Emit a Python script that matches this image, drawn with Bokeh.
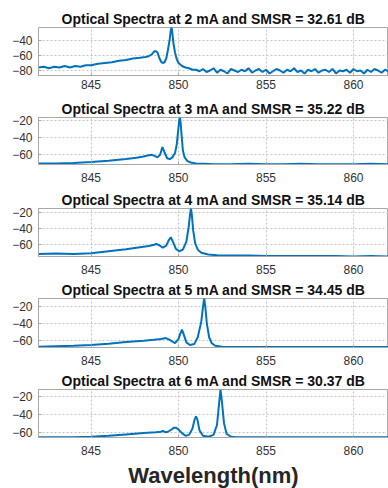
from bokeh.plotting import figure
from bokeh.layouts import column
from bokeh.models import FixedTicker, Range1d
from bokeh.embed import file_html
from bokeh.resources import INLINE

# ---- data ----
currents_mA = [2, 3, 4, 5, 6]
smsr_dB = [32.61, 35.22, 35.14, 34.45, 30.37]
x_ticks = [845, 850, 855, 860]

wl_2mA = [842.0, 842.3, 842.6, 842.9, 843.2, 843.5, 843.8, 844.1, 844.4, 844.7, 845.0, 845.4, 845.8,
          846.2, 846.6, 847.0, 847.4, 847.8, 848.1, 848.3, 848.5, 848.6, 848.7, 848.8, 848.9, 849.0,
          849.1, 849.2, 849.3, 849.4, 849.5, 849.55, 849.6, 849.65, 849.7, 849.8, 849.9, 850.0,
          850.2, 850.4, 850.6, 850.8,
          851.0, 851.2, 851.4, 851.6, 851.8, 852.0, 852.2, 852.4, 852.6, 852.8, 853.0, 853.2,
          853.4, 853.6, 853.8, 854.0, 854.2, 854.4, 854.6, 854.8, 855.0, 855.2, 855.4, 855.6,
          855.8, 856.0, 856.2, 856.4, 856.6, 856.8, 857.0, 857.2, 857.4, 857.6, 857.8, 858.0,
          858.2, 858.4, 858.6, 858.8, 859.0, 859.2, 859.4, 859.6, 859.8, 860.0, 860.2, 860.4,
          860.6, 860.8, 861.0, 861.2, 861.4, 861.6, 861.8, 862.0]
pw_2mA = [-76, -75, -77, -75, -76, -74, -76, -74, -75, -73, -73, -71, -70,
          -69, -67, -66, -64, -63, -62, -61, -58, -55, -54, -56, -63, -68,
          -70, -69, -64, -52, -38, -28, -22, -30, -42, -56, -65, -70,
          -74, -76, -77, -79,
          -79, -81, -78, -82, -80, -77, -83, -79, -81, -84, -78, -80,
          -82, -79, -81, -77, -83, -80, -78, -82, -79, -84, -81, -78,
          -80, -83, -79, -81, -77, -82, -80, -84, -79, -81, -78, -83,
          -80, -79, -82, -78, -84, -80, -81, -79, -83, -78, -81, -80,
          -84, -79, -82, -78, -80, -83, -79, -81]

wl_3mA = [842, 843, 844, 845, 846, 847, 847.6, 848.0, 848.3, 848.45, 848.6, 848.8, 848.95, 849.08,
          849.2, 849.35, 849.5, 849.65, 849.8, 849.9, 849.98, 850.04, 850.08, 850.12, 850.18, 850.25,
          850.35, 850.5, 850.7, 851.0, 851.5, 852, 853, 854, 855, 856, 857, 858, 859, 860, 861, 862]
pw_3mA = [-70, -70, -69.5, -68.5, -67, -65, -63.5, -62, -60.5, -60, -61, -63, -60, -51,
          -57, -64, -65, -63, -58, -48, -32, -20, -16.5, -22, -38, -55,
          -63, -67, -69, -70, -70.5, -71, -71, -70.5, -71, -71, -70.5, -71, -71, -71, -70.5, -71]

wl_4mA = [842, 843, 844, 845, 846, 847, 847.8, 848.3, 848.6, 848.74, 848.9, 849.1, 849.3, 849.45,
          849.56, 849.68, 849.85, 850.05, 850.25, 850.45, 850.58, 850.66, 850.71, 850.76, 850.84,
          850.95, 851.1, 851.3, 851.7, 852.2, 853, 854, 855, 856, 857, 858, 859, 860, 861, 862]
pw_4mA = [-71.5, -71, -71.5, -70.5, -68, -65.5, -63, -61.5, -60, -59, -60.5, -63.5, -61, -54,
          -50.5, -56, -65, -68, -66, -56, -38, -22, -14.6, -22, -42,
          -58, -66, -70, -72, -73, -73.5, -73.5, -74, -74, -74, -74, -74, -74.5, -74, -74.5]

wl_5mA = [842, 843, 844, 845, 846, 847, 848, 848.6, 849.0, 849.28, 849.5, 849.8, 850.0, 850.1,
          850.2, 850.3, 850.45, 850.65, 850.9, 851.1, 851.3, 851.4, 851.47, 851.53, 851.62, 851.75,
          851.9, 852.1, 852.5, 853, 854, 855, 856, 857, 858, 859, 860, 861, 862]
pw_5mA = [-67, -66.5, -66, -65, -63.5, -61.5, -60, -59, -58, -57, -59, -63, -58, -52,
          -47, -53, -62, -65, -64, -56, -38, -20, -10.6, -20, -40, -56,
          -63, -66, -67, -67.5, -67.5, -67.5, -67.5, -67.5, -67.5, -67.5, -67.5, -67.5, -67.5]

wl_6mA = [842, 843, 844, 845, 846, 847, 848, 848.7, 849.0, 849.1, 849.25, 849.4, 849.6, 849.75,
          849.85, 850.0, 850.2, 850.4, 850.6, 850.8, 850.92, 851.0, 851.08, 851.2, 851.4, 851.7,
          852.0, 852.2, 852.32, 852.4, 852.48, 852.6, 852.75, 853.0, 853.3, 854, 855, 856, 857,
          858, 859, 860, 861, 862]
pw_6mA = [-65.5, -65.5, -65.5, -65, -64, -62.5, -61, -60, -59.5, -58.5, -60, -59.5, -57, -55,
          -55, -57, -61, -64, -63, -56, -46, -42.6, -46, -58, -64, -65,
          -63, -52, -28, -12.6, -26, -50, -62, -65, -65.5, -65.5, -65.5, -65.5, -65.5,
          -65.5, -65.5, -65.5, -65.5, -65.5]

wavelengths = [wl_2mA, wl_3mA, wl_4mA, wl_5mA, wl_6mA]
powers = [pw_2mA, pw_3mA, pw_4mA, pw_5mA, pw_6mA]
y_ticks = [[-80, -60, -40], [-60, -40, -20], [-60, -40, -20], [-60, -40, -20], [-60, -40, -20]]

# ---- layout / style ----
y_ranges = [(-86.7, -22.7), (-71.3, -16.5), (-74.6, -14.6), (-68.0, -10.6), (-65.9, -12.6)]
frame_h = [48, 47, 48, 49, 48]
min_top = [27, 20, 22, 20, 20]
min_bottom = [22, 22, 22, 22, 0]
x_standoff = [4, 8, 8, 8, 8]
FONT = "Liberation Sans"
BLUE = "#0072BD"
GRID = "#c4c4c4"
EDGE = "#a8a8a8"

figs = []
for i in range(5):
    p = figure(frame_width=350, frame_height=frame_h[i], output_backend="svg", toolbar_location=None,
               x_range=Range1d(842, 862), y_range=Range1d(*y_ranges[i]),
               min_border_left=38, min_border_right=0,
               min_border_top=min_top[i], min_border_bottom=min_bottom[i],
               title=f"Optical Spectra at {currents_mA[i]} mA and SMSR = {smsr_dB[i]:.2f} dB")
    p.title.text_font = FONT
    p.title.text_font_size = "14px"
    p.title.text_font_style = "bold"
    p.title.text_color = "#111111"
    p.title.align = "center"
    p.title.standoff = 2
    p.line(wavelengths[i], powers[i], line_color=BLUE, line_width=2)

    p.xaxis.ticker = FixedTicker(ticks=x_ticks)
    p.yaxis.ticker = FixedTicker(ticks=y_ticks[i])
    for ax in (p.xaxis[0], p.yaxis[0]):
        ax.major_label_text_font = FONT
        ax.major_label_text_font_size = "12px"
        ax.major_label_text_color = "#333333"
        ax.axis_line_color = EDGE
        ax.major_tick_line_color = EDGE
        ax.major_tick_in = 3
        ax.major_tick_out = 0
        ax.minor_tick_line_color = None
    p.xaxis.major_label_standoff = x_standoff[i]
    p.yaxis.major_label_standoff = 6
    p.grid.grid_line_color = GRID
    p.grid.grid_line_dash = "2 2"
    p.grid.grid_line_width = 1
    p.outline_line_color = EDGE
    p.background_fill_color = "white"
    p.border_fill_color = "white"
    if i == 4:
        p.xaxis.axis_label = "Wavelength(nm)"
        p.xaxis.axis_label_text_font = FONT
        p.xaxis.axis_label_text_font_size = "22px"
        p.xaxis.axis_label_text_font_style = "bold"
        p.xaxis.axis_label_text_color = "#262626"
        p.xaxis.axis_label_standoff = 5
    figs.append(p)

layout = column(*figs, spacing=0)
open("out.html", "w").write(file_html(layout, INLINE))
